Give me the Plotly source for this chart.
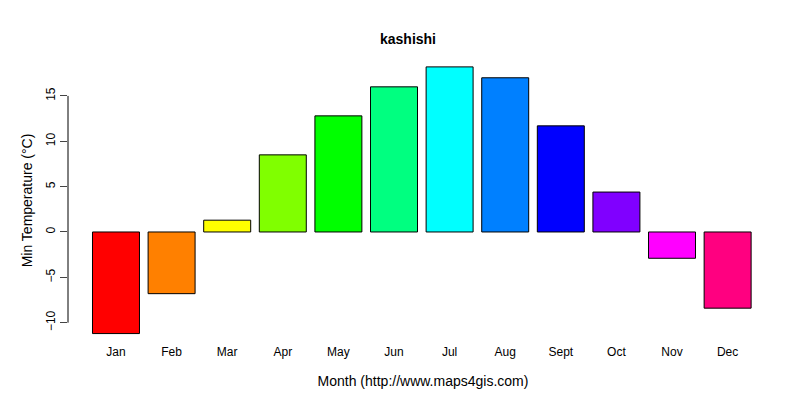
import plotly.graph_objects as go

months = ["Jan","Feb","Mar","Apr","May","Jun","Jul","Aug","Sept","Oct","Nov","Dec"]
values = [-11.2, -6.8, 1.3, 8.5, 12.8, 16.0, 18.2, 17.0, 11.7, 4.4, -2.9, -8.4]
colors = ["#FF0000","#FF8000","#FFFF00","#80FF00","#00FF00","#00FF80",
          "#00FFFF","#0080FF","#0000FF","#8000FF","#FF00FF","#FF0080"]
yticks = [-10, -5, 0, 5, 10, 15]

xs = list(range(len(months)))
fig = go.Figure(go.Bar(x=xs, y=values, width=0.845, marker=dict(color=colors, line=dict(color="black", width=1))))
font = dict(family="Liberation Sans, Arial", size=12, color="black")
fig.update_layout(
    width=800, height=400, plot_bgcolor="white", paper_bgcolor="white",
    margin=dict(l=60, r=30, t=50, b=65), font=font, showlegend=False,
    title=dict(text="<b>kashishi</b>", x=0.5, xanchor="center", y=0.922, yanchor="middle", font=dict(size=14)),
)
fig.update_xaxes(range=[-0.863, 11.906], tickvals=xs, ticktext=months, showgrid=False, zeroline=False,
                 showline=False, ticks="", title=dict(text="Month (http://www.maps4gis.com)", standoff=18))
fig.update_yaxes(range=[-12.24, 19.18], tickvals=yticks, showgrid=False, zeroline=False, showline=False,
                 ticks="outside", ticklen=7, tickangle=-90, title=dict(text="Min Temperature (°C)", standoff=8))
fig.add_shape(type="line", xref="paper", yref="y", x0=0, x1=0, y0=-10, y1=15, line=dict(color="black", width=1))
fig.write_html("out.html")
